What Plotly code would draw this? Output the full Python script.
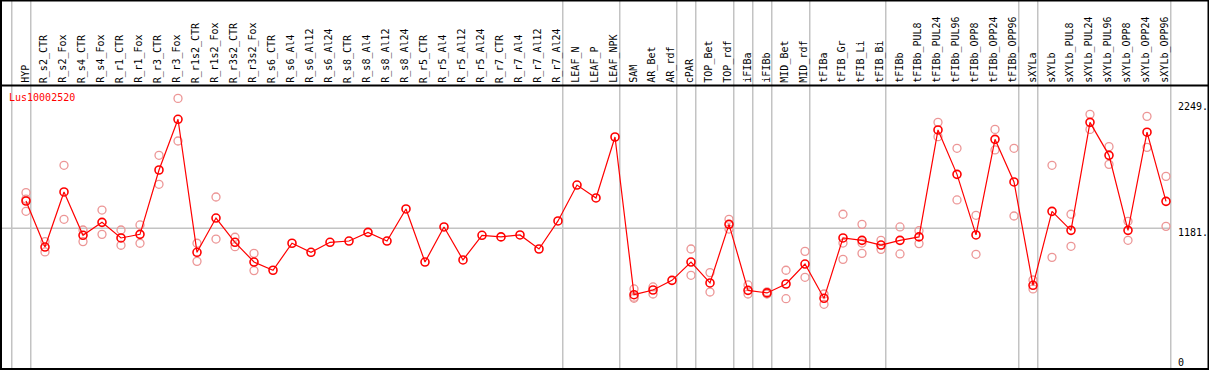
import plotly.graph_objects as go

W, H = 1209, 370

categories = ["HYP", "R_s2_CTR", "R_s2_Fox", "R_s4_CTR", "R_s4_Fox", "R_r1_CTR", "R_r1_Fox",
              "R_r3_CTR", "R_r3_Fox", "R_r1s2_CTR", "R_r1s2_Fox", "R_r3s2_CTR", "R_r3s2_Fox",
              "R_s6_CTR", "R_s6_Al4", "R_s6_Al12", "R_s6_Al24", "R_s8_CTR", "R_s8_Al4", "R_s8_Al12",
              "R_s8_Al24", "R_r5_CTR", "R_r5_Al4", "R_r5_Al12", "R_r5_Al24", "R_r7_CTR", "R_r7_Al4",
              "R_r7_Al12", "R_r7_Al24", "LEAF_N", "LEAF_P", "LEAF_NPK", "SAM", "AR_Bet", "AR_rdf",
              "cPAR", "TOP_Bet", "TOP_rdf", "iFIBa", "iFIBb", "MID_Bet", "MID_rdf", "tFIBa",
              "tFIB_Gr", "tFIB_Li", "tFIB_Bi", "tFIBb", "tFIBb_PUL8", "tFIBb_PUL24", "tFIBb_PUL96",
              "tFIBb_OPP8", "tFIBb_OPP24", "tFIBb_OPP96", "sXYLa", "sXYLb", "sXYLb_PUL8",
              "sXYLb_PUL24", "sXYLb_PUL96", "sXYLb_OPP8", "sXYLb_OPP24", "sXYLb_OPP96"]

# group sizes (separators drawn between groups)
group_sizes = [1, 28, 3, 3, 1, 2, 1, 1, 2, 4, 7, 1, 7]

mean_values = [1414, 1022, 1491, 1122, 1232, 1099, 1130, 1678, 2110, 977, 1269, 1062, 894,
               824, 1054, 977, 1062, 1073, 1147, 1073, 1346, 894, 1193, 912, 1122, 1108, 1125,
               1005, 1244, 1550, 1440, 1959, 616, 656, 738, 894, 716, 1215, 653, 631, 707, 877,
               585, 1099, 1079, 1039, 1079, 1108, 2019, 1641, 1125, 1939, 1576, 696, 1326, 1164,
               2084, 1803, 1164, 2000, 1411]

N = None
rep_a = [1485, 1068, 1718, 1167, 1337, 1167, 1210, 1803, 2288, 1054, 1448, 1105, 968,
         N, N, N, N, N, N, N, N, N, N, N, N, N, N, N, N, N, N, N,
         665, 682, N, 1005, 804, 1258, 699, 640, 824, 985, 622, 1301, 1215, 1079, 1193, 1161,
         2084, 1863, 1292, 2024, 1863, 741, 1718, 1301, 2152, 1877, 1241, 2135, 1624]
rep_b = [1326, 980, 1258, 1068, 1130, 1037, 1054, 1556, 1925, 900, 1090, 1025, 821,
         N, N, N, N, N, N, N, N, N, N, N, N, N, N, N, N, N, N, N,
         585, 622, N, 781, 639, 1175, 622, 622, 582, 764, 534, 917, 968, 1002, 963, 1051,
         1962, 1423, 960, 1849, 1286, 665, 934, 1028, 2024, 1726, 1079, 1871, 1198]
rep_c = [1430, N, N, N, N, N, N, N, N, N, N, N, N,
         N, N, N, N, N, N, N, N, N, N, N, N, N, N, N, N, N, N, N,
         595, N, N, N, N, N, N, N, N, N, N, 1056, 1056, N, N, N,
         N, N, N, N, N, N, N, N, N, N, N, N, N]

gene_label = "Lus10002520"
right_ticks = [2249, 1181]
right_tick_text = ["2249.", "1181."]
ref_line_value = 1181

idx = list(range(len(categories)))

# pixel geometry helpers
x0_px, step_px = 26.0, 19.0
xr0 = -x0_px / step_px
xr1 = xr0 + W / step_px
px_per_unit = 0.1174
y_zero_px = 367.0
yr0 = -(H - y_zero_px) / px_per_unit
yr1 = yr0 + H / px_per_unit


def px_x(p):
    return p / W


def px_y(p):
    return 1 - p / H


fig = go.Figure()

pink = "rgb(236,150,150)"
for reps in (rep_a, rep_b, rep_c):
    xs = [i for i, v in zip(idx, reps) if v is not None]
    ys = [v for v in reps if v is not None]
    fig.add_trace(go.Scatter(x=xs, y=ys, mode="markers",
                             marker=dict(symbol="circle-open", size=8, color=pink,
                                         line=dict(width=1.3, color=pink)),
                             showlegend=False, hoverinfo="skip"))

fig.add_trace(go.Scatter(x=idx, y=mean_values, mode="lines+markers",
                         line=dict(color="red", width=1.2),
                         marker=dict(symbol="circle-open", size=8, color="red",
                                     line=dict(width=1.6, color="red")),
                         showlegend=False))

shapes = []
gray = "rgb(195,195,195)"
# group separators
bounds = [-1]
acc = -1
for g in group_sizes:
    acc += g
    bounds.append(acc)
for b in bounds:
    shapes.append(dict(type="line", xref="x", yref="paper", x0=b + 0.25, x1=b + 0.25,
                       y0=0, y1=1, line=dict(color=gray, width=1.5), layer="below"))
# reference line
shapes.append(dict(type="line", xref="paper", yref="y", x0=px_x(1), x1=px_x(1170.5),
                   y0=ref_line_value, y1=ref_line_value, line=dict(color=gray, width=1.5),
                   layer="below"))
# black frame lines
blk = dict(color="black", width=2)
shapes.append(dict(type="line", xref="paper", yref="paper", x0=0, x1=1, y0=px_y(0.5), y1=px_y(0.5), line=blk))
shapes.append(dict(type="line", xref="paper", yref="paper", x0=0, x1=1, y0=px_y(85.5), y1=px_y(85.5), line=blk))
shapes.append(dict(type="line", xref="paper", yref="paper", x0=0, x1=1, y0=px_y(369), y1=px_y(369), line=blk))
shapes.append(dict(type="line", xref="paper", yref="paper", x0=px_x(1), x1=px_x(1), y0=0, y1=1, line=blk))
shapes.append(dict(type="line", xref="paper", yref="paper", x0=px_x(1208.5), x1=px_x(1208.5), y0=0, y1=1, line=blk))

annotations = []
font = dict(family="DejaVu Sans Mono", size=10, color="black")
for i, c in zip(idx, categories):
    annotations.append(dict(x=i - 0.07, y=px_y(84), xref="x", yref="paper", text=c,
                            textangle=-90, showarrow=False, xanchor="center", yanchor="bottom",
                            font=font, borderpad=0))
annotations.append(dict(x=px_x(8), y=px_y(97), xref="paper", yref="paper", text=gene_label,
                        showarrow=False, xanchor="left", yanchor="middle",
                        font=dict(family="DejaVu Sans Mono", size=10, color="red"), borderpad=0))
for v, t in zip(right_ticks, right_tick_text):
    annotations.append(dict(x=px_x(1177), y=v, xref="paper", yref="y", text=t, showarrow=False,
                            xanchor="left", yanchor="middle", yshift=-4, font=font, borderpad=0))
annotations.append(dict(x=px_x(1177), y=px_y(362), xref="paper", yref="paper", text="0",
                        showarrow=False, xanchor="left", yanchor="middle", font=font, borderpad=0))

fig.update_layout(
    width=W, height=H, autosize=False,
    margin=dict(l=0, r=0, t=0, b=0, pad=0),
    paper_bgcolor="white", plot_bgcolor="white",
    xaxis=dict(range=[xr0, xr1], showgrid=False, zeroline=False, showticklabels=False,
               showline=False, fixedrange=True),
    yaxis=dict(range=[yr0, yr1], showgrid=False, zeroline=False, showticklabels=False,
               showline=False, fixedrange=True),
    shapes=shapes, annotations=annotations, showlegend=False,
)

fig.write_html("out.html", config={"displayModeBar": False},
               post_script="document.body.style.margin='0';document.body.style.overflow='hidden';")
